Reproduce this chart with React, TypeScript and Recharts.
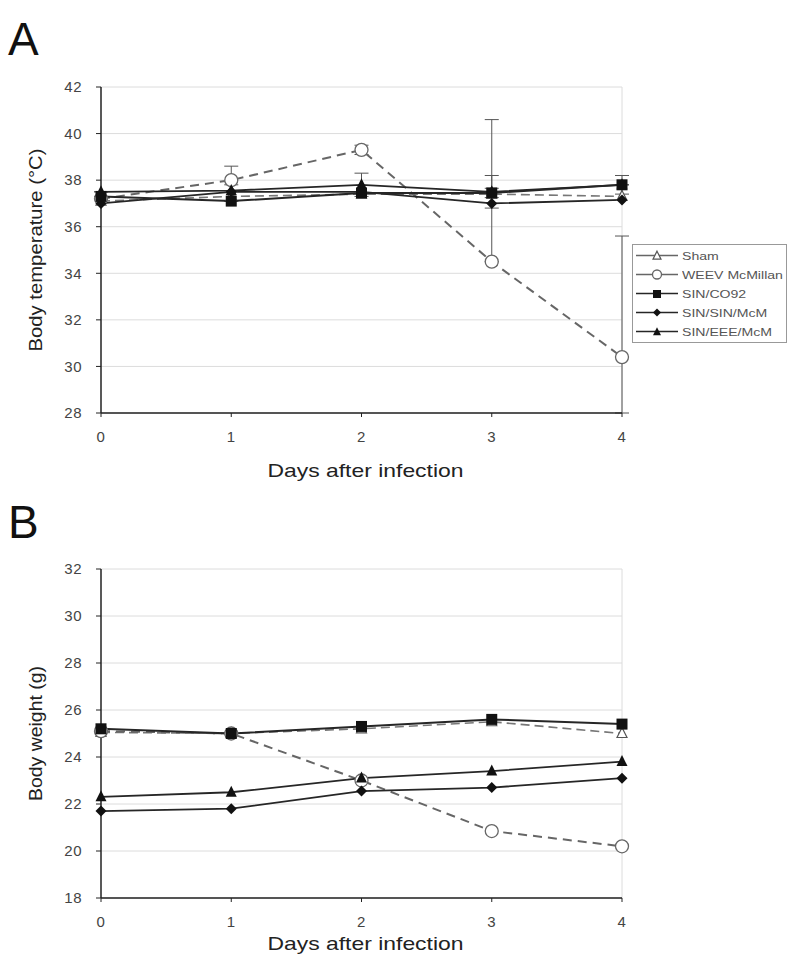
import React from 'react';
import { LineChart, Line, XAxis, YAxis, CartesianGrid, ErrorBar, ReferenceLine } from 'recharts';

// days after infection
const days = [0, 1, 2, 3, 4];

// panel A: body temperature (°C)
const shamTemp = [37.1, 37.3, 37.4, 37.4, 37.3];
const weevTemp = [37.2, 38.0, 39.3, 34.5, 30.4];
const co92Temp = [37.3, 37.1, 37.45, 37.45, 37.8];
const sinSinTemp = [37.0, 37.5, 37.5, 37.0, 37.15];
const sinEeeTemp = [37.5, 37.55, 37.8, 37.5, 37.8];

// error bars [minus, plus]
const weevTempErr = [[0, 0], [0.2, 0.6], [0.2, 0.2], [0, 6.1], [2.4, 5.2]];
const co92TempErr = [[0, 0], [0, 0], [0, 0], [0.2, 0.2], [0.4, 0.4]];
const sinEeeTempErr = [[0, 0], [0, 0], [0.5, 0.5], [0.7, 0.7], [0, 0]];

// panel B: body weight (g)
const shamWeight = [25.05, 25.0, 25.2, 25.5, 25.0];
const weevWeight = [25.1, 25.0, 23.0, 20.85, 20.2];
const co92Weight = [25.2, 25.0, 25.3, 25.6, 25.4];
const sinSinWeight = [21.7, 21.8, 22.55, 22.7, 23.1];
const sinEeeWeight = [22.3, 22.5, 23.1, 23.4, 23.8];

const tempTicks = [28, 30, 32, 34, 36, 38, 40, 42];
const weightTicks = [18, 20, 22, 24, 26, 28, 30, 32];

const seriesNames = ['Sham', 'WEEV McMillan', 'SIN/CO92', 'SIN/SIN/McM', 'SIN/EEE/McM'];

const dataA = days.map((d, i) => ({
  day: d,
  sham: shamTemp[i],
  weev: weevTemp[i],
  co92: co92Temp[i],
  sinSin: sinSinTemp[i],
  sinEee: sinEeeTemp[i],
  weevErr: weevTempErr[i],
  co92Err: co92TempErr[i],
  sinEeeErr: sinEeeTempErr[i],
}));

const dataB = days.map((d, i) => ({
  day: d,
  sham: shamWeight[i],
  weev: weevWeight[i],
  co92: co92Weight[i],
  sinSin: sinSinWeight[i],
  sinEee: sinEeeWeight[i],
}));

const FONT = '"Liberation Sans", Arial, sans-serif';
const LINE = '#262626';

// marker shapes
const OpenTriangle = ({ cx, cy, s = 10 }: any) => (
  <path d={`M${cx},${cy - s * 0.6} L${cx + s / 2},${cy + s * 0.4} L${cx - s / 2},${cy + s * 0.4} Z`} fill="#fff" stroke="#555" strokeWidth={1.2} />
);
const OpenCircle = ({ cx, cy, r = 6.5 }: any) => (
  <circle cx={cx} cy={cy} r={r} fill="#fff" stroke="#666" strokeWidth={1.3} />
);
const Square = ({ cx, cy, s = 11 }: any) => (
  <rect x={cx - s / 2} y={cy - s / 2} width={s} height={s} fill="#111" />
);
const Diamond = ({ cx, cy, s = 5.5 }: any) => (
  <path d={`M${cx},${cy - s} L${cx + s},${cy} L${cx},${cy + s} L${cx - s},${cy} Z`} fill="#111" />
);
const Triangle = ({ cx, cy, s = 11 }: any) => (
  <path d={`M${cx},${cy - s * 0.6} L${cx + s / 2},${cy + s * 0.4} L${cx - s / 2},${cy + s * 0.4} Z`} fill="#111" />
);

const dotOf = (Shape: any) => (p: any) => (
  <g key={`${p.dataKey}-${p.index}`}>
    <Shape cx={p.cx} cy={p.cy} />
  </g>
);

const tickStyle = { fontSize: 15, fill: '#444', fontFamily: FONT, letterSpacing: 0.5 };

const YLabel = ({ text, len, viewBox }: any) => {
  const x = viewBox.x - 6;
  const y = viewBox.y + viewBox.height / 2;
  return (
    <text x={x} y={y} transform={`rotate(-90 ${x} ${y})`} textAnchor="middle" dominantBaseline="central"
      fontSize={19} fontFamily={FONT} fill="#222" textLength={len} lengthAdjust="spacingAndGlyphs">
      {text}
    </text>
  );
};

const XLabel = ({ viewBox, dy }: any) => (
  <text x={viewBox.x + viewBox.width / 2 + 4} y={viewBox.y + dy} textAnchor="middle" fontSize={19}
    fontFamily={FONT} fill="#222" textLength={196} lengthAdjust="spacingAndGlyphs">
    Days after infection
  </text>
);

const legendShapes = [OpenTriangle, OpenCircle, Square, Diamond, Triangle];

const LegendBox = () => (
  <div style={{ position: 'absolute', left: 632, top: 244, width: 153, height: 96, border: '1px solid #999', background: '#fff', paddingTop: 1 }}>
    {seriesNames.map((name, i) => {
      const Shape = legendShapes[i];
      return (
        <div key={name} style={{ height: 19, display: 'flex', alignItems: 'center' }}>
          <svg width={46} height={19} style={{ flex: 'none' }}>
            <line x1={3} y1={9.5} x2={45} y2={9.5} stroke={i < 2 ? '#666' : LINE} strokeWidth={1.5} />
            {i === 0 ? <Shape cx={24} cy={10} s={8} /> : i === 1 ? <Shape cx={24} cy={9.5} r={4.5} /> : i === 3 ? <Shape cx={24} cy={9.5} s={4} /> : <Shape cx={24} cy={10} s={8} />}
          </svg>
          <span style={{ marginLeft: 3, fontFamily: FONT, fontSize: 11, color: '#555', whiteSpace: 'nowrap', display: 'inline-block', transform: 'scaleX(1.28)', transformOrigin: 'left center' }}>
            {name}
          </span>
        </div>
      );
    })}
  </div>
);

const Panel = ({ data, domain, ticks, yText, yLen, top, height, margin, xDy, errors }: any) => (
  <div style={{ position: 'absolute', left: 0, top }}>
    <LineChart width={800} height={height} data={data} margin={margin}>
      <CartesianGrid horizontal vertical={false} stroke="#dcdcdc" />
      <ReferenceLine x={4} stroke="#dcdcdc" />
      <XAxis dataKey="day" type="number" domain={[0, 4]} ticks={days} tick={tickStyle} tickSize={4} tickMargin={14}
        height={50} axisLine={{ stroke: '#222', strokeWidth: 1.5 }} tickLine={{ stroke: '#222' }}
        label={{ content: (p: any) => <XLabel {...p} dy={xDy} /> }} />
      <YAxis type="number" domain={domain} ticks={ticks} interval={0} tick={tickStyle} tickSize={5} tickMargin={14} width={60}
        axisLine={{ stroke: '#222', strokeWidth: 1.5 }} tickLine={{ stroke: '#222' }}
        label={{ content: (p: any) => <YLabel {...p} text={yText} len={yLen} /> }} />
      <Line dataKey="sham" stroke="#777" strokeWidth={1.6} strokeDasharray="9 5" dot={dotOf(OpenTriangle)} isAnimationActive={false} />
      <Line dataKey="weev" stroke="#666" strokeWidth={2} strokeDasharray="9 6" dot={dotOf(OpenCircle)} isAnimationActive={false}>
        {errors && <ErrorBar dataKey="weevErr" direction="y" width={7} stroke="#555" strokeWidth={1} />}
      </Line>
      <Line dataKey="sinSin" stroke={LINE} strokeWidth={1.8} dot={dotOf(Diamond)} isAnimationActive={false} />
      <Line dataKey="sinEee" stroke={LINE} strokeWidth={1.8} dot={dotOf(Triangle)} isAnimationActive={false}>
        {errors && <ErrorBar dataKey="sinEeeErr" direction="y" width={7} stroke="#555" strokeWidth={1} />}
      </Line>
      <Line dataKey="co92" stroke={LINE} strokeWidth={2} dot={dotOf(Square)} isAnimationActive={false}>
        {errors && <ErrorBar dataKey="co92Err" direction="y" width={7} stroke="#555" strokeWidth={1} />}
      </Line>
    </LineChart>
  </div>
);

export default function App() {
  return (
    <div style={{ position: 'absolute', left: 0, top: 0, width: 800, height: 973, background: '#fff', overflow: 'hidden' }}>
      <div style={{ position: 'absolute', left: 8, top: 16, fontFamily: FONT, fontSize: 46, lineHeight: '46px', color: '#111' }}>A</div>
      <div style={{ position: 'absolute', left: 8, top: 499, fontFamily: FONT, fontSize: 46, lineHeight: '46px', color: '#111' }}>B</div>
      <Panel data={dataA} domain={[28, 42]} ticks={tempTicks} yText="Body temperature (°C)" yLen={203}
        top={0} height={490} margin={{ top: 87, right: 178, bottom: 27, left: 41 }} xDy={64} errors />
      <Panel data={dataB} domain={[18, 32]} ticks={weightTicks} yText="Body weight (g)" yLen={135}
        top={490} height={483} margin={{ top: 79, right: 178, bottom: 25, left: 41 }} xDy={52} errors={false} />
      <LegendBox />
    </div>
  );
}
